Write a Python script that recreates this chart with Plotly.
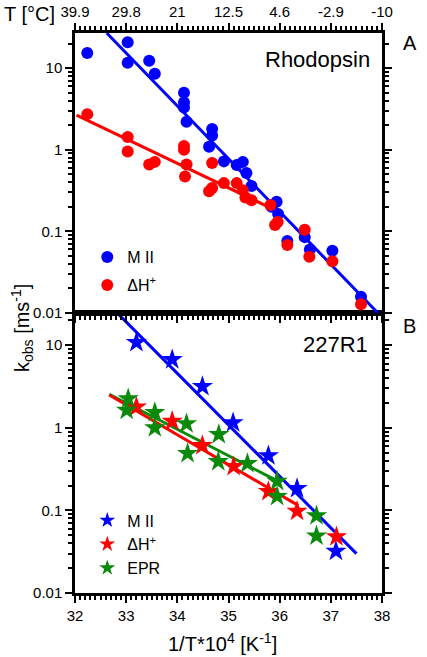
import plotly.graph_objects as go

# ---------------- data ----------------
# Panel A: Rhodopsin (circles)
A_M2_x = [32.24, 33.03, 33.03, 33.45, 33.56, 34.13, 34.13, 34.13, 34.18, 34.62, 34.68, 34.68,
          34.91, 35.16, 35.28, 35.35, 35.45, 35.84, 35.94, 35.97, 36.15, 36.49, 36.59, 37.03, 37.59]
A_M2_y = [15.3, 20.7, 11.6, 12.3, 8.5, 5.0, 3.8, 3.3, 2.2, 1.09, 1.8, 1.49,
          0.72, 0.65, 0.71, 0.52, 0.36, 0.20, 0.23, 0.163, 0.076, 0.085, 0.060, 0.058, 0.0158]
A_H_x = [32.24, 33.03, 33.03, 33.45, 33.56, 34.13, 34.13, 34.18, 34.15, 34.68, 34.62, 34.68,
         34.91, 35.16, 35.28, 35.33, 35.45, 35.82, 35.91, 35.96, 36.15, 36.49, 36.58, 37.03, 37.59]
A_H_y = [2.73, 1.43, 0.95, 0.66, 0.71, 1.11, 1.0, 0.66, 0.47, 0.69, 0.31, 0.34,
         0.39, 0.39, 0.32, 0.26, 0.24, 0.21, 0.12, 0.13, 0.068, 0.105, 0.049, 0.043, 0.0128]
A_fit_M2_x = [32.62, 37.92]
A_fit_M2_y = [26.9, 0.01]
A_fit_H_x = [32.03, 35.85]
A_fit_H_y = [2.65, 0.19]

# Panel B: 227R1 (stars)
B_M2_x = [33.20, 33.90, 34.49, 35.09, 35.78, 36.34, 37.10]
B_M2_y = [10.8, 6.7, 3.17, 1.15, 0.46, 0.184, 0.032]
B_H_x = [33.20, 33.90, 34.49, 35.10, 35.78, 36.34, 37.11]
B_H_y = [1.79, 1.2, 0.61, 0.34, 0.17, 0.098, 0.048]
B_E_x = [33.04, 33.01, 33.56, 33.56, 34.18, 34.20, 34.81, 34.80, 35.37, 35.95, 35.95, 36.72, 36.72]
B_E_y = [2.25, 1.63, 1.53, 1.0, 1.12, 0.49, 0.83, 0.39, 0.37, 0.225, 0.148, 0.086, 0.049]
B_fit_M2_x = [32.83, 37.50]
B_fit_M2_y = [24.5, 0.030]
B_fit_H_x = [32.67, 36.36]
B_fit_H_y = [2.5, 0.115]
B_fit_E_x = [32.67, 36.0]
B_fit_E_y = [2.55, 0.22]

# axis ticks
x_ticks = [32, 33, 34, 35, 36, 37, 38]
T_labels = ["39.9", "29.8", "21", "12.5", "4.6", "-2.9", "-10"]
y_ticks = [0.01, 0.1, 1, 10]
y_tick_labels = ["0.01", "0.1", "1", "10"]

BLUE = "#0000ff"
RED = "#ff0000"
GREEN = "#0a8a0a"
FONT = "Liberation Sans, Arial, sans-serif"

fig = go.Figure()

# ---------- panel A (top; xaxis2 / yaxis2) ----------
fig.add_trace(go.Scatter(x=A_fit_H_x, y=A_fit_H_y, mode="lines", line=dict(color=RED, width=3),
                         xaxis="x2", yaxis="y2", showlegend=False))
fig.add_trace(go.Scatter(x=A_fit_M2_x, y=A_fit_M2_y, mode="lines", line=dict(color=BLUE, width=3),
                         xaxis="x2", yaxis="y2", showlegend=False))
fig.add_trace(go.Scatter(x=A_M2_x, y=A_M2_y, mode="markers", name="M II",
                         marker=dict(color=BLUE, size=12, symbol="circle"),
                         xaxis="x2", yaxis="y2", legend="legend", legendgroup="a1"))
fig.add_trace(go.Scatter(x=A_H_x, y=A_H_y, mode="markers", name="\u0394H<sup>+</sup>",
                         marker=dict(color=RED, size=12, symbol="circle"),
                         xaxis="x2", yaxis="y2", legend="legend", legendgroup="a2"))

# ---------- panel B (bottom; xaxis / yaxis) ----------
fig.add_trace(go.Scatter(x=B_fit_E_x, y=B_fit_E_y, mode="lines", line=dict(color=GREEN, width=3),
                         showlegend=False))
fig.add_trace(go.Scatter(x=B_fit_H_x, y=B_fit_H_y, mode="lines", line=dict(color=RED, width=3),
                         showlegend=False))
fig.add_trace(go.Scatter(x=B_fit_M2_x, y=B_fit_M2_y, mode="lines", line=dict(color=BLUE, width=3),
                         showlegend=False))
fig.add_trace(go.Scatter(x=B_M2_x, y=B_M2_y, mode="markers", name="M II",
                         marker=dict(color=BLUE, size=16, symbol="star"),
                         legend="legend2", legendgroup="b1"))
fig.add_trace(go.Scatter(x=B_H_x, y=B_H_y, mode="markers", name="\u0394H<sup>+</sup>",
                         marker=dict(color=RED, size=16, symbol="star"),
                         legend="legend2", legendgroup="b2"))
fig.add_trace(go.Scatter(x=B_E_x, y=B_E_y, mode="markers", name="EPR",
                         marker=dict(color=GREEN, size=16, symbol="star"),
                         legend="legend2", legendgroup="b3"))

minor_y = [m * 10 ** e for e in range(-2, 2) for m in range(2, 10)]

common_y = dict(type="log", automargin=False, showgrid=False, zeroline=False, showline=True,
                linecolor="black", linewidth=2.5, mirror="ticks", ticks="outside", ticklen=7,
                tickwidth=2, tickcolor="black", tickvals=y_ticks, ticktext=y_tick_labels,
                tickfont=dict(size=15, color="black", family=FONT),
                minor=dict(tickvals=minor_y, ticks="outside", ticklen=4, tickwidth=1.5,
                           tickcolor="black", showgrid=False))

fig.update_layout(
    width=427, height=657,
    margin=dict(l=75, r=45, t=33, b=64),
    paper_bgcolor="white", plot_bgcolor="white",
    font=dict(family=FONT, color="black"),
    xaxis=dict(domain=[0, 1], range=[32, 38], anchor="y", automargin=False, showgrid=False,
               zeroline=False, showline=True, linecolor="black", linewidth=2.5, mirror=True,
               ticks="outside", ticklen=7, tickwidth=2, tickcolor="black",
               tickvals=x_ticks, tickfont=dict(size=15, color="black", family=FONT),
               minor=dict(dtick=0.1, ticks="outside", ticklen=4, tickwidth=1.5,
                          tickcolor="black", showgrid=False)),
    yaxis=dict(domain=[0, 0.5], range=[-2, 1.39], anchor="x", **common_y),
    xaxis2=dict(domain=[0, 1], range=[32, 38], anchor="y2", side="top", automargin=False,
                showgrid=False, zeroline=False, showline=True, linecolor="black", linewidth=2.5,
                mirror="ticks", ticks="outside", ticklen=7, tickwidth=2, tickcolor="black",
                tickvals=x_ticks, ticktext=T_labels,
                tickfont=dict(size=15, color="black", family=FONT),
                minor=dict(dtick=0.1, ticks="outside", ticklen=4, tickwidth=1.5,
                           tickcolor="black", showgrid=False)),
    yaxis2=dict(domain=[0.5, 1], range=[-2, 1.43], anchor="x2", **common_y),
    legend=dict(x=0.04, y=0.63, xanchor="left", yanchor="top", bgcolor="rgba(0,0,0,0)",
                font=dict(size=16, color="black", family=FONT), tracegroupgap=4,
                itemsizing="constant"),
    legend2=dict(x=0.04, y=0.16, xanchor="left", yanchor="top", bgcolor="rgba(0,0,0,0)",
                 font=dict(size=16, color="black", family=FONT), tracegroupgap=0,
                 itemsizing="constant"),
    annotations=[
        dict(text="Rhodopsin", x=0.967, y=0.952, xref="paper", yref="paper", xanchor="right",
             yanchor="middle", showarrow=False, font=dict(size=22, color="black", family=FONT)),
        dict(text="227R1", x=0.96, y=0.443, xref="paper", yref="paper", xanchor="right",
             yanchor="middle", showarrow=False, font=dict(size=22, color="black", family=FONT)),
        dict(text="A", x=1.091, y=0.982, xref="paper", yref="paper", xanchor="center",
             yanchor="middle", showarrow=False, font=dict(size=20, color="black", family=FONT)),
        dict(text="B", x=1.091, y=0.477, xref="paper", yref="paper", xanchor="center",
             yanchor="middle", showarrow=False, font=dict(size=20, color="black", family=FONT)),
        dict(text="T [\u00b0C]", x=-0.238, y=1.034, xref="paper", yref="paper", xanchor="left",
             yanchor="middle", showarrow=False, font=dict(size=20, color="black", family=FONT)),
        dict(text="k<sub>obs</sub> [ms<sup>-1</sup>]", x=-0.173, y=0.473, xref="paper",
             yref="paper", xanchor="center", yanchor="middle", textangle=-90, showarrow=False,
             font=dict(size=20, color="black", family=FONT)),
        dict(text="1/T*10<sup>4</sup> [K<sup>-1</sup>]", x=0.479, y=-0.089, xref="paper",
             yref="paper", xanchor="center", yanchor="middle", showarrow=False,
             font=dict(size=20, color="black", family=FONT)),
    ],
)

# remove the browser's default page margin so the figure sits at the window's top-left corner
fig.write_html("out.html", config={"displayModeBar": False},
               post_script="document.body.style.margin='0';")
